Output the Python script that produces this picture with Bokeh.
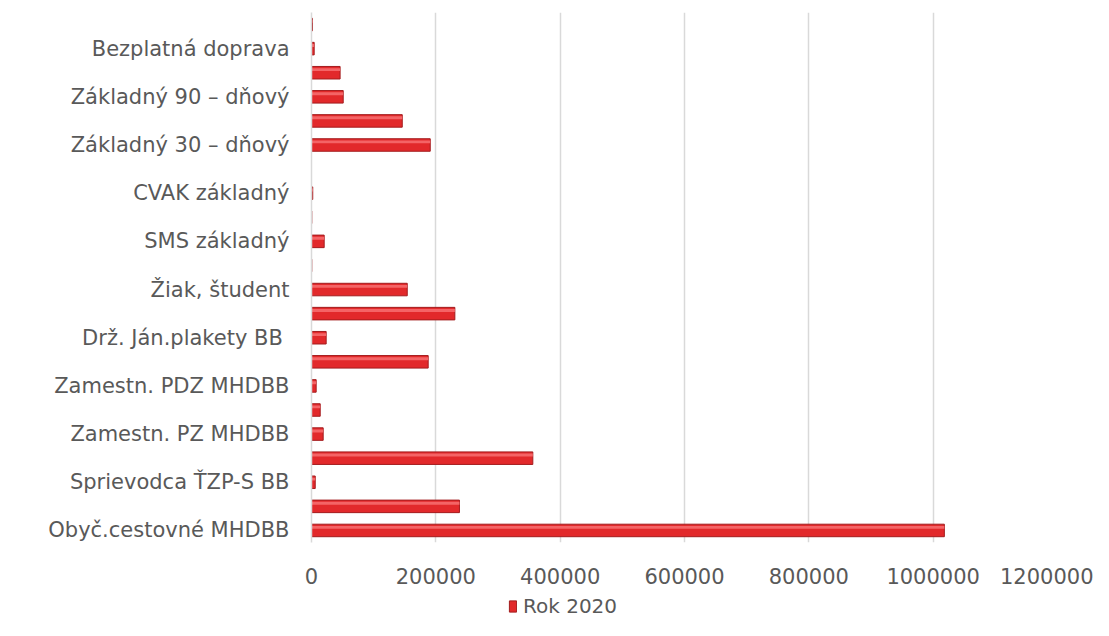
from bokeh.plotting import figure
from bokeh.models import FixedTicker, Legend, LegendItem, ColumnDataSource, Range1d
from bokeh.layouts import column
from bokeh.embed import file_html
from bokeh.resources import INLINE

categories = ["Obyč.cestovné MHDBB", None, "Sprievodca ŤZP-S BB", None,
              "Zamestn. PZ MHDBB", None, "Zamestn. PDZ MHDBB", None,
              "Drž. Ján.plakety BB ", None, "Žiak, študent", None,
              "SMS základný", None, "CVAK základný", None,
              "Základný 30 – dňový", None, "Základný 90 – dňový", None,
              "Bezplatná doprava", None]
values = [1018000, 238000, 6000, 356000, 18800, 14000, 7500, 187700,
          23600, 230600, 154000, 500, 20400, 500, 2000, 0,
          191000, 146000, 51000, 46000, 4300, 1500]
x_ticks = [0, 200000, 400000, 600000, 800000, 1000000, 1200000]
series_name = "Rok 2020"

positions = list(range(1, len(categories) + 1))
src = ColumnDataSource(dict(y=positions, v=values,
                            yh=[p + 0.13 for p in positions]))

FONT = "DejaVu Sans"
TXT = "#595959"
FS = "21px"
BAR = dict(fill_color="#E2292B", line_color="#A31C1E", line_width=1)

p = figure(width=1093, height=592, output_backend="svg", toolbar_location=None,
           x_range=Range1d(0, 1200000), y_range=Range1d(0.5, len(categories) + 0.5),
           min_border_left=311, min_border_right=36, min_border_top=12,
           min_border_bottom=50)
p.outline_line_color = None

main = p.hbar(y="y", right="v", left=0, height=0.52, source=src, **BAR)
p.hbar(y="yh", right="v", left=0, height=0.12, source=src,
       fill_color="#F46466", line_color=None)

p.xgrid.grid_line_color = "#D9D9D9"
p.xgrid.grid_line_width = 1.5
p.ygrid.grid_line_color = None

p.xaxis.ticker = FixedTicker(ticks=x_ticks)
p.xaxis.axis_line_color = None
p.xaxis.major_tick_line_color = None
p.xaxis.major_tick_out = 0
p.xaxis.minor_tick_line_color = None
p.xaxis.minor_tick_out = 0
p.xaxis.major_label_text_font = FONT
p.xaxis.major_label_text_font_size = FS
p.xaxis.major_label_text_color = TXT
p.xaxis.major_label_standoff = 25
p.xaxis[0].formatter.use_scientific = False

ticks = [pos for pos, c in zip(positions, categories) if c]
p.yaxis.ticker = FixedTicker(ticks=ticks)
p.yaxis.major_label_overrides = {pos: c for pos, c in zip(positions, categories) if c}
p.yaxis.axis_line_color = "#D9D9D9"
p.yaxis.axis_line_width = 1.5
p.yaxis.major_tick_line_color = None
p.yaxis.minor_tick_line_color = None
p.yaxis.major_label_text_font = FONT
p.yaxis.major_label_text_font_size = FS
p.yaxis.major_label_text_color = TXT
p.yaxis.major_label_standoff = 16

# legend strip below the chart (its frame is aligned with the chart's frame)
p2 = figure(width=1093, height=28, output_backend="svg", toolbar_location=None,
            x_axis_location=None, y_axis_location=None, min_border=0,
            x_range=Range1d(0, 1200000), y_range=Range1d(100, 101))
p2.outline_line_color = None
p2.grid.visible = False
r2 = p2.hbar(y="y", right="v", left=0, height=0.52, source=src, **BAR)

legend = Legend(items=[LegendItem(label=series_name, renderers=[r2])],
                location=(197, 2), orientation="horizontal",
                padding=0, margin=0, spacing=0,
                glyph_width=9, glyph_height=14, label_standoff=6,
                label_text_font=FONT, label_text_font_size="20px",
                label_text_color=TXT, label_height=14,
                border_line_color=None, background_fill_alpha=0)
p2.add_layout(legend, "center")

open("out.html", "w").write(file_html(column(p, p2, spacing=0), INLINE))
